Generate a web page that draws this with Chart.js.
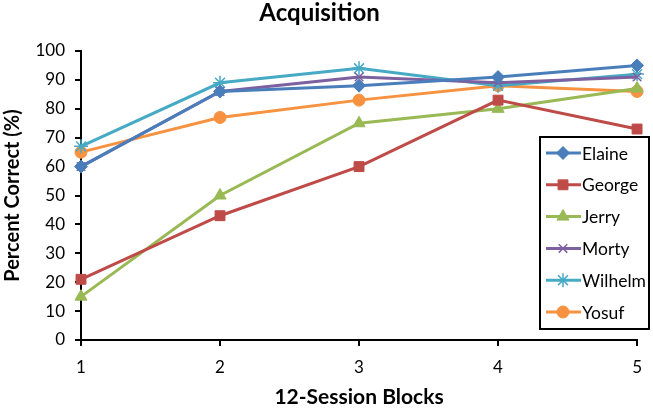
<!DOCTYPE html>
<html>
<head>
<meta charset="utf-8">
<script src="https://cdn.jsdelivr.net/npm/chart.js@4"></script>
<style>
  html, body { margin: 0; padding: 0; background: #fff; }
  #wrap { width: 653px; height: 410px; }
</style>
</head>
<body>
<div id="wrap"><canvas id="grafico" width="653" height="410"></canvas></div>
<script>
const blocks = ['1', '2', '3', '4', '5'];
const elaine = [60, 86, 88, 91, 95];
const george = [21, 43, 60, 83, 73];
const jerry = [15, 50, 75, 80, 87];
const morty = [60, 86, 91, 89, 91];
const wilhelm = [67, 89, 94, 88, 92];
const yosuf = [65, 77, 83, 88, 86];

const fonte = 'Lato, "Open Sans", sans-serif';

function serie(label, data, cor, estilo, raio) {
  return {
    label: label,
    data: data,
    borderColor: cor,
    backgroundColor: cor,
    borderWidth: 3,
    pointStyle: estilo,
    pointRadius: raio,
    pointHoverRadius: raio,
    pointBorderWidth: (estilo === 'star' || estilo === 'crossRot') ? 1.5 : 1,
    pointBorderColor: cor,
    pointBackgroundColor: cor,
    tension: 0,
    clip: false
  };
}

// legenda desenhada dentro do gráfico, com caixa preta
const legendaBox = {
  id: 'legendaBox',
  afterDraw(chart) {
    const ctx = chart.ctx;
    const x0 = 540, y0 = 137, w = 109, h = 192;
    ctx.save();
    ctx.fillStyle = '#fff';
    ctx.fillRect(x0, y0, w, h);
    ctx.strokeStyle = '#000';
    ctx.lineWidth = 2;
    ctx.strokeRect(x0, y0, w, h);
    ctx.font = '17.5px ' + fonte;
    ctx.textBaseline = 'middle';
    chart.data.datasets.forEach((ds, i) => {
      const y = 153 + i * 31.8;
      ctx.strokeStyle = ds.borderColor;
      ctx.lineWidth = 3;
      ctx.beginPath();
      ctx.moveTo(546, y);
      ctx.lineTo(581, y);
      ctx.stroke();
      ctx.fillStyle = ds.borderColor;
      ctx.lineWidth = ds.pointBorderWidth;
      Chart.helpers.drawPoint(ctx, {
        pointStyle: ds.pointStyle,
        radius: ds.pointRadius,
        rotation: 0,
        borderWidth: ds.pointBorderWidth
      }, 563, y);
      ctx.fillStyle = '#000';
      ctx.fillText(ds.label, 582, y + 1);
    });
    ctx.restore();
  }
};

new Chart(document.getElementById('grafico').getContext('2d'), {
  type: 'line',
  data: {
    labels: blocks,
    datasets: [
      serie('Elaine', elaine, '#4a7ebb', 'rectRot', 6.5),
      serie('George', george, '#be4b48', 'rect', 7),
      serie('Jerry', jerry, '#98b954', 'triangle', 7),
      serie('Morty', morty, '#7d60a0', 'crossRot', 6),
      serie('Wilhelm', wilhelm, '#46aac5', 'star', 7),
      serie('Yosuf', yosuf, '#f69240', 'circle', 6)
    ]
  },
  options: {
    responsive: false,
    animation: false,
    events: [],
    layout: { padding: { top: 0, right: 14, bottom: 0, left: 0 } },
    plugins: {
      legend: { display: false },
      tooltip: { enabled: false },
      title: {
        display: true,
        text: 'Acquisition',
        color: '#000',
        font: { family: fonte, size: 24, weight: 'bold', lineHeight: 1.1 },
        padding: { top: 0, bottom: 24.6 }
      }
    },
    scales: {
      x: {
        offset: false,
        border: { display: true, color: '#000', width: 2 },
        grid: { drawOnChartArea: false, drawTicks: true, tickLength: 6, color: '#000', lineWidth: 2 },
        ticks: { color: '#000', padding: 11, font: { family: fonte, size: 17 }, maxRotation: 0 },
        title: {
          display: true,
          text: '12-Session Blocks',
          color: '#000',
          font: { family: fonte, size: 21, weight: 'bold' },
          padding: { top: 4, bottom: 0 }
        },
        afterFit(scale) { scale.height = 70; }
      },
      y: {
        min: 0,
        max: 100,
        border: { display: true, color: '#000', width: 2 },
        grid: { drawOnChartArea: false, drawTicks: true, tickLength: 6, color: '#000', lineWidth: 2 },
        ticks: { stepSize: 10, color: '#000', padding: 10, font: { family: fonte, size: 17 } },
        title: {
          display: true,
          text: 'Percent Correct (%)',
          color: '#000',
          font: { family: fonte, size: 20, weight: 'bold' },
          padding: { top: 1, bottom: 4 }
        },
        afterFit(scale) { scale.width = 81; }
      }
    }
  },
  plugins: [legendaBox]
});
</script>
</body>
</html>
